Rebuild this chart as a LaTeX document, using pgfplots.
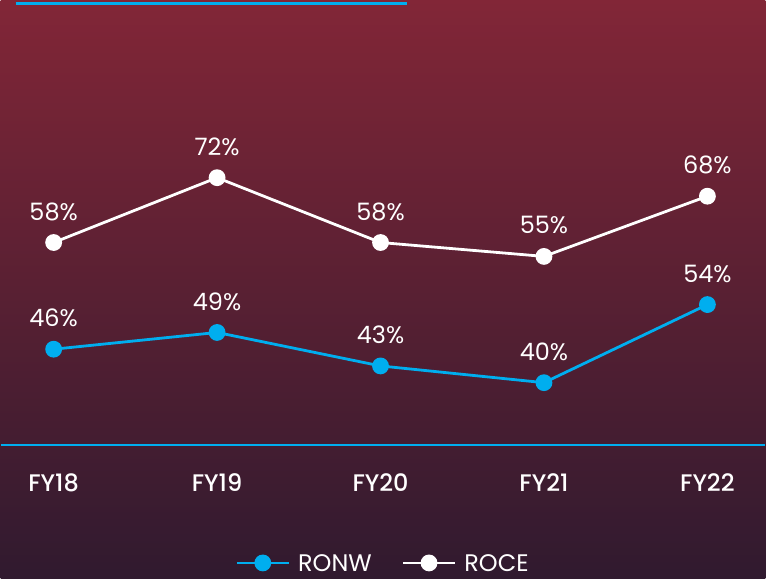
\documentclass[border=0pt]{standalone}
\usepackage{pgfplots}
\pgfplotsset{compat=1.18}
\usepackage{fontspec}
\setmainfont{Poppins}
\IfFontExistsTF{Poppins Medium}{\newfontfamily\medfont{Poppins Medium}}{\newcommand\medfont{\bfseries}}
\definecolor{cblue}{RGB}{0,174,239}
\definecolor{ctop}{RGB}{130,38,55}
\definecolor{cbot}{RGB}{48,26,47}
\pgfplotsset{
  base/.style={
    at={(0,0)}, anchor=south west, scale only axis,
    width=766pt, height=580pt, clip=false,
    xmin=-0.3237, xmax=4.354,
    axis line style={draw=none}, tick style={draw=none},
    ytick=\empty,
    /pgf/number format/assume math mode=true,
    nodes near coords={\pgfmathprintnumber{\pgfplotspointmeta}\%},
    every node near coord/.append style={anchor=center, yshift=31pt, text=white, font=\fontsize{24}{24}\selectfont},
  }
}
\begin{document}
\begin{tikzpicture}[x=1pt,y=1pt]
\shade[top color=ctop, bottom color=cbot] (0,0) rectangle (766,580);
\draw[cblue, line width=2.5pt] (15,576.5) -- (407,576.5);
\draw[cblue, line width=1.5pt] (0,134) -- (766,134);
% ROCE
\begin{axis}[base, ymin=-14.63, ymax=110.37,
  xtick={0,1,2,3,4}, xticklabels={FY18,FY19,FY20,FY21,FY22},
  xticklabel style={font=\medfont\fontsize{24}{24}\selectfont, text=white, anchor=center, yshift=96pt}]
\addplot[white, line width=2.8pt, mark=*, mark size=7pt, mark options={fill=white, draw=white}]
  coordinates {(0,58) (1,72) (2,58) (3,55) (4,68)};
\end{axis}
% RONW
\begin{axis}[base, ymin=4.83, ymax=108.6, xtick=\empty,
  legend style={at={(0.5,0.0275)}, anchor=center, draw=none, fill=none, text=white,
    font=\fontsize{24}{24}\selectfont, legend columns=2,
    nodes={inner ysep=1pt, text depth=0pt},
    /tikz/every odd column/.append style={column sep=6pt},
    /tikz/every even column/.append style={column sep=28pt}},
  legend image code/.code={\draw[#1, mark repeat=2, mark phase=2] plot coordinates {(0pt,0pt) (26pt,0pt) (52pt,0pt)};}]
\addplot[cblue, line width=2.8pt, mark=*, mark size=7pt, mark options={fill=cblue, draw=cblue}]
  coordinates {(0,46) (1,49) (2,43) (3,40) (4,54)};
\addlegendentry{RONW}
\addlegendimage{white, line width=2.8pt, mark=*, mark size=7pt, mark options={fill=white, draw=white}}
\addlegendentry{ROCE}
\end{axis}
\end{tikzpicture}
\end{document}
